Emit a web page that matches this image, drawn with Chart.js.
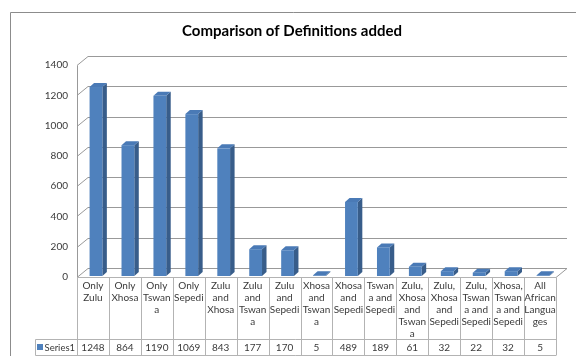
<!DOCTYPE html>
<html>
<head>
<meta charset="utf-8">
<script src="https://cdn.jsdelivr.net/npm/chart.js@4"></script>
<style>
  html, body { margin: 0; padding: 0; background: #fff; }
  #wrap { width: 576px; height: 356px; }
</style>
</head>
<body>
<div id="wrap"><canvas id="defsChart" width="576" height="356"></canvas></div>
<script>
// Categories as they wrap inside the data table
const categoryLines = [
  ["Only", "Zulu"],
  ["Only", "Xhosa"],
  ["Only", "Tswan", "a"],
  ["Only", "Sepedi"],
  ["Zulu", "and", "Xhosa"],
  ["Zulu", "and", "Tswan", "a"],
  ["Zulu", "and", "Sepedi"],
  ["Xhosa", "and", "Tswan", "a"],
  ["Xhosa", "and", "Sepedi"],
  ["Tswan", "a and", "Sepedi"],
  ["Zulu,", "Xhosa", "and", "Tswan", "a"],
  ["Zulu,", "Xhosa", "and", "Sepedi"],
  ["Zulu,", "Tswan", "a and", "Sepedi"],
  ["Xhosa,", "Tswan", "a and", "Sepedi"],
  ["All", "African", "Langua", "ges"],
];
const seriesName = "Series1";
const seriesValues = [1248, 864, 1190, 1069, 843, 177, 170, 5, 489, 189, 61, 32, 22, 32, 5];
const yTicks = [0, 200, 400, 600, 800, 1000, 1200, 1400];

const DEPTH_X = 11; // back wall offset
const DEPTH_Y = -9;
const GRID_COLOR = "#999999";
const TEXT_COLOR = "#3a3a3a";
const FONT = "Lato, 'Open Sans', sans-serif";

// Walls, gridlines and floor of the 3D plot
function drawWalls(chart) {
  const { ctx, chartArea } = chart;
  const y = chart.scales.y;
  ctx.save();
  ctx.strokeStyle = GRID_COLOR;
  ctx.lineWidth = 1;
  yTicks.forEach((v) => {
    const py = Math.round(y.getPixelForValue(v)) + 0.5;
    ctx.beginPath();
    ctx.moveTo(chartArea.left, py);
    ctx.lineTo(chartArea.left + DEPTH_X, py + DEPTH_Y);
    ctx.lineTo(chartArea.right + DEPTH_X, py + DEPTH_Y);
    ctx.stroke();
  });
  // left edge and floor
  const bottom = Math.round(y.getPixelForValue(0)) + 0.5;
  const top = Math.round(y.getPixelForValue(1400)) + 0.5;
  ctx.beginPath();
  ctx.moveTo(chartArea.left + 0.5, top);
  ctx.lineTo(chartArea.left + 0.5, bottom);
  ctx.moveTo(chartArea.right, bottom);
  ctx.lineTo(chartArea.right + DEPTH_X, bottom + DEPTH_Y);
  ctx.stroke();
  ctx.restore();
}

// Columns with a side and a top face
function drawColumns(chart) {
  const { ctx } = chart;
  const meta = chart.getDatasetMeta(0);
  const dx = 4.5;
  const dy = -4;
  ctx.save();
  meta.data.forEach((bar) => {
    const w = bar.width;
    const left = bar.x - w / 2 + 3;
    const right = left + w;
    const top = bar.y - 1;
    const base = bar.base - 1;
    // side face
    ctx.fillStyle = "#385d8a";
    ctx.beginPath();
    ctx.moveTo(right, base);
    ctx.lineTo(right + dx, base + dy);
    ctx.lineTo(right + dx, top + dy);
    ctx.lineTo(right, top);
    ctx.closePath();
    ctx.fill();
    // top face
    ctx.fillStyle = "#4a7ab6";
    ctx.beginPath();
    ctx.moveTo(left, top);
    ctx.lineTo(left + dx, top + dy);
    ctx.lineTo(right + dx, top + dy);
    ctx.lineTo(right, top);
    ctx.closePath();
    ctx.fill();
    // front face
    ctx.fillStyle = "#4f81bd";
    ctx.fillRect(left, top, w, base - top);
  });
  ctx.restore();
}

// Data table below the plot
function drawTable(chart) {
  const { ctx } = chart;
  const x = chart.scales.x;
  const y = chart.scales.y;
  const n = categoryLines.length;
  const colW = (x.right - x.left) / n;
  const tTop = Math.round(y.getPixelForValue(0)) + 0.5;
  const rowTop = 339.5;
  const tBottom = 355.5;
  const keyLeft = 35.5;

  ctx.save();
  ctx.strokeStyle = "#b3b3b3";
  ctx.lineWidth = 1;
  ctx.beginPath();
  ctx.moveTo(x.left, tTop);
  ctx.lineTo(x.right, tTop);
  ctx.moveTo(keyLeft, rowTop);
  ctx.lineTo(x.right, rowTop);
  ctx.moveTo(keyLeft, tBottom);
  ctx.lineTo(x.right, tBottom);
  ctx.moveTo(keyLeft, rowTop);
  ctx.lineTo(keyLeft, tBottom);
  for (let i = 0; i <= n; i++) {
    const px = Math.round(x.left + i * colW) + 0.5;
    ctx.moveTo(px, tTop);
    ctx.lineTo(px, tBottom);
  }
  ctx.stroke();

  ctx.fillStyle = TEXT_COLOR;
  ctx.font = "10px " + FONT;
  ctx.textAlign = "center";
  ctx.textBaseline = "middle";
  categoryLines.forEach((lines, i) => {
    const cx = x.getPixelForValue(i);
    lines.forEach((line, j) => {
      ctx.fillText(line, cx, 286 + j * 12);
    });
    ctx.fillText(String(seriesValues[i]), cx, 347.5);
  });

  // legend key
  ctx.fillStyle = "#4f81bd";
  ctx.fillRect(37, 344, 6, 6);
  ctx.fillStyle = TEXT_COLOR;
  ctx.textAlign = "left";
  ctx.font = "9.5px " + FONT;
  ctx.fillText(seriesName, 44.5, 347.5);
  ctx.restore();
}

const threeDPlugin = {
  id: "threeD",
  beforeDraw(chart) {
    const { ctx } = chart;
    ctx.save();
    ctx.fillStyle = "#fff";
    ctx.fillRect(0, 0, chart.width, chart.height);
    ctx.strokeStyle = "#8c8c8c";
    ctx.beginPath();
    ctx.moveTo(10.5, chart.height);
    ctx.lineTo(10.5, 12.5);
    ctx.lineTo(chart.width, 12.5);
    ctx.stroke();
    ctx.restore();
  },
  beforeDatasetsDraw(chart) {
    drawWalls(chart);
  },
  afterDatasetsDraw(chart) {
    drawColumns(chart);
  },
  afterDraw(chart) {
    drawTable(chart);
  },
};

const ctx = document.getElementById("defsChart").getContext("2d");
const chartInstance = new Chart(ctx, {
  type: "bar",
  data: {
    labels: categoryLines,
    datasets: [
      {
        label: seriesName,
        data: seriesValues,
        backgroundColor: "rgba(0,0,0,0)",
        categoryPercentage: 0.4,
        barPercentage: 1,
      },
    ],
  },
  options: {
    responsive: false,
    animation: false,
    layout: {
      padding: { top: 0, left: 28, right: 20, bottom: 79 },
    },
    scales: {
      x: { display: false },
      y: {
        min: 0,
        max: 1400,
        afterFit: function (scale) {
          scale.width = 49;
        },
        afterBuildTicks: function (scale) {
          scale.ticks = yTicks.map((v) => ({ value: v }));
        },
        grid: { display: false, drawTicks: false },
        border: { display: false },
        ticks: {
          padding: 9,
          color: TEXT_COLOR,
          font: { family: FONT, size: 10 },
          callback: function (value) {
            return String(value);
          },
        },
      },
    },
    plugins: {
      legend: { display: false },
      tooltip: { enabled: false },
      title: {
        display: true,
        text: "Comparison of Definitions added",
        color: "#000",
        font: { family: FONT, size: 15, weight: "bold" },
        padding: { top: 22, bottom: 25 },
      },
    },
  },
  plugins: [threeDPlugin],
});
</script>
</body>
</html>
